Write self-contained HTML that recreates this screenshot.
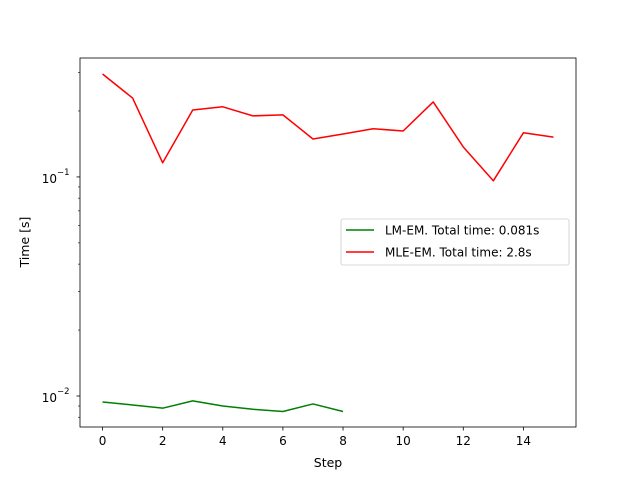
<!DOCTYPE html>
<html><head><meta charset="utf-8"><style>
body{margin:0;background:#fff;}
svg text{font-family:"DejaVu Sans","Liberation Sans",sans-serif;fill:#000;}
</style></head><body>
<svg id="chart" width="640" height="480" viewBox="0 0 640 480" xmlns="http://www.w3.org/2000/svg">
<rect width="640" height="480" fill="#fff"/>
<g id="plot"></g>
</svg>
<script>
const steps=[0,1,2,3,4,5,6,7,8,9,10,11,12,13,14,15];
const mleValues=[0.295,0.229,0.116,0.202,0.209,0.190,0.192,0.149,0.157,0.166,0.162,0.220,0.137,0.096,0.159,0.152];
const lmSteps=[0,1,2,3,4,5,6,7,8];
const lmValues=[0.00939,0.0091,0.0088,0.0095,0.0090,0.0087,0.0085,0.0092,0.0085];
const xTicks=[0,2,4,6,8,10,12,14];
const yMajor=[0.01,0.1];
const yMajorLabels=["10","10"];
const yMajorExp=["−2","−1"];
const legendLabels=["LM-EM. Total time: 0.081s","MLE-EM. Total time: 2.8s"];

const L=80,R=576,T=58,B=427;
const yMin=Math.log10(0.00722),yMax=Math.log10(0.349);
const xMin=-0.75,xMax=15.75;
function xs(v){return L+(v-xMin)/(xMax-xMin)*(R-L);}
function ys(v){return B-(Math.log10(v)-yMin)/(yMax-yMin)*(B-T);}
const NS="http://www.w3.org/2000/svg";
const g=document.getElementById('plot');
function el(tag,attrs,parent){const e=document.createElementNS(NS,tag);for(const k in attrs)e.setAttribute(k,attrs[k]);(parent||g).appendChild(e);return e;}

function line(xsArr,vals,color,name){
  const pts=xsArr.map((x,i)=>xs(x).toFixed(2)+","+ys(vals[i]).toFixed(2)).join(" ");
  const p=el('polyline',{points:pts,fill:'none',stroke:color,'stroke-width':1.5,'stroke-linejoin':'round'});
  
  
}
line(lmSteps,lmValues,'#008000','lm-em-line');
line(steps,mleValues,'#ff0000','mle-em-line');

const frame=el('rect',{x:L,y:T,width:R-L,height:B-T,fill:'none',stroke:'#000','stroke-width':0.8});



xTicks.forEach(t=>{
  const x=xs(t);
  el('line',{x1:x,y1:B,x2:x,y2:B+3.5,stroke:'#000','stroke-width':0.8});
  const tx=el('text',{x:x,y:B+18,'font-size':12,'text-anchor':'middle'});
  tx.textContent=t;
  
  
});
for(let d=-3;d<=0;d++){for(let m=2;m<=9;m++){const v=m*Math.pow(10,d);const lv=Math.log10(v);
  if(lv>yMin&&lv<yMax){const y=ys(v);el('line',{x1:L-2,y1:y,x2:L,y2:y,stroke:'#000','stroke-width':0.6});}}}
yMajor.forEach((v,i)=>{
  const y=ys(v);
  el('line',{x1:L-3.5,y1:y,x2:L,y2:y,stroke:'#000','stroke-width':0.8});
  const tx=el('text',{x:L-23,y:y+6,'font-size':12,'text-anchor':'end'});
  tx.textContent=yMajorLabels[i];
  
  
  const ex=el('text',{x:L-23,y:y-2,'font-size':8.5});
  ex.textContent=yMajorExp[i];
});
const xl=el('text',{x:(L+R)/2,y:467,'font-size':12.5,'text-anchor':'middle'});
xl.textContent='Step';


const yl=el('text',{x:0,y:0,'font-size':12.5,'text-anchor':'middle',transform:'translate(29,242) rotate(-90)'});
yl.textContent='Time [s]';



const lg=el('g',{});


el('rect',{x:341,y:219,width:228,height:46,rx:2,fill:'#fff',stroke:'#ccc','stroke-width':0.8},lg);
const colors=['#008000','#ff0000'];
legendLabels.forEach((s,i)=>{
  const y=230+i*22;
  el('line',{x1:346,y1:y,x2:374,y2:y,stroke:colors[i],'stroke-width':1.5},lg);
  const t=el('text',{x:385,y:y+4.5,'font-size':12},lg);
  t.textContent=s;
  
  
});
</script>
</body></html>
